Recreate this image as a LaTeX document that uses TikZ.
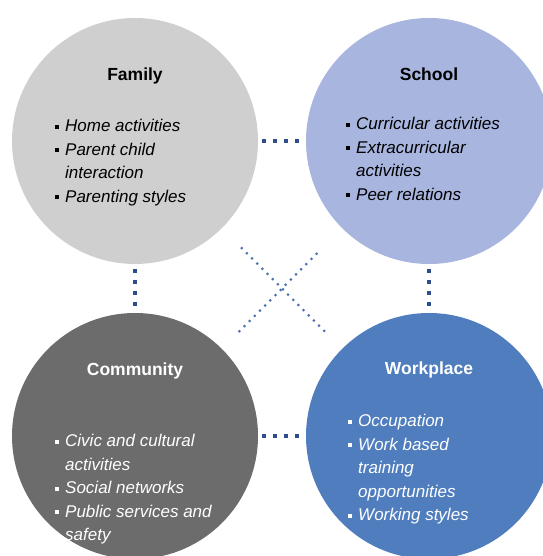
\documentclass[tikz,border=0pt]{standalone}
\usepackage{fontspec}
\setmainfont{Liberation Sans}
\usetikzlibrary{positioning}
\definecolor{familygray}{HTML}{CFCFCF}
\definecolor{schoolblue}{HTML}{A7B5DF}
\definecolor{communitygray}{HTML}{6C6C6C}
\definecolor{workblue}{HTML}{4F7DBE}
\definecolor{dotblue}{HTML}{2E4D8C}
\definecolor{crossblue}{HTML}{4B6FAE}
\newcommand{\sqitem}{\makebox[10pt][l]{\rule[3pt]{4pt}{4pt}}}
\newcommand{\sqcont}{\hspace*{10pt}}

\begin{document}
\begin{tikzpicture}[x=1pt,y=1pt]
\tikzstyle{every node}+=[inner sep=0pt]
\tikzstyle{sphere}=[circle, minimum size=246pt]
\tikzstyle{title}=[anchor=base, font=\fontsize{17.5}{21}\selectfont\bfseries]
\tikzstyle{items}=[anchor=north west, align=left, font=\fontsize{17}{23.5}\selectfont\itshape]
\tikzstyle{squaredots}=[dotblue, line width=4pt, dash pattern=on 4pt off 7pt]
\tikzstyle{rounddots}=[crossblue, line width=3pt, line cap=round, dash pattern=on 0pt off 7.3pt]
\useasboundingbox (0,0) rectangle (542,556);
\node [sphere, fill=familygray] (family) at (135,415) {};
\node [sphere, fill=schoolblue] (school) at (429,415) {};
\node [sphere, fill=communitygray] (community) at (135,120) {};
\node [sphere, fill=workblue] (workplace) at (429,120) {};
\draw [squaredots, shorten <=4pt, shorten >=6pt] (family) -- (school);
\draw [squaredots, shorten <=4pt, shorten >=6pt] (community) -- (workplace);
\draw [squaredots, shorten <=5pt, shorten >=5pt] (family) -- (community);
\draw [squaredots, shorten <=5pt, shorten >=5pt] (school) -- (workplace);
\draw [rounddots, shorten <=28pt, shorten >=24pt] (family) -- (workplace);
\draw [rounddots, shorten <=36pt, shorten >=22pt] (school) -- (community);
\node [title] (familytitle) at ([yshift=60pt]family.center) {Family};
\node [title] (schooltitle) at ([yshift=60pt]school.center) {School};
\node [title, white] (communitytitle) at ([yshift=60pt]community.center) {Community};
\node [title, white] (workplacetitle) at ([yshift=61pt]workplace.center) {Workplace};
\node [items] (familyitems) at ([shift={(-80pt,22pt)}]family.center)
  {\sqitem Home activities\\ \sqitem Parent child\\ \sqcont interaction\\ \sqitem Parenting styles};
\node [items] (schoolitems) at ([shift={(-83pt,24pt)}]school.center)
  {\sqitem Curricular activities\\ \sqitem Extracurricular\\ \sqcont activities\\ \sqitem Peer relations};
\node [items, white] (communityitems) at ([shift={(-80pt,2pt)}]community.center)
  {\sqitem Civic and cultural\\ \sqcont activities\\ \sqitem Social networks\\ \sqitem Public services and\\ \sqcont safety};
\node [items, white] (workplaceitems) at ([shift={(-81pt,22pt)}]workplace.center)
  {\sqitem Occupation\\ \sqitem Work based\\ \sqcont training\\ \sqcont opportunities\\ \sqitem Working styles};
\end{tikzpicture}
\end{document}
